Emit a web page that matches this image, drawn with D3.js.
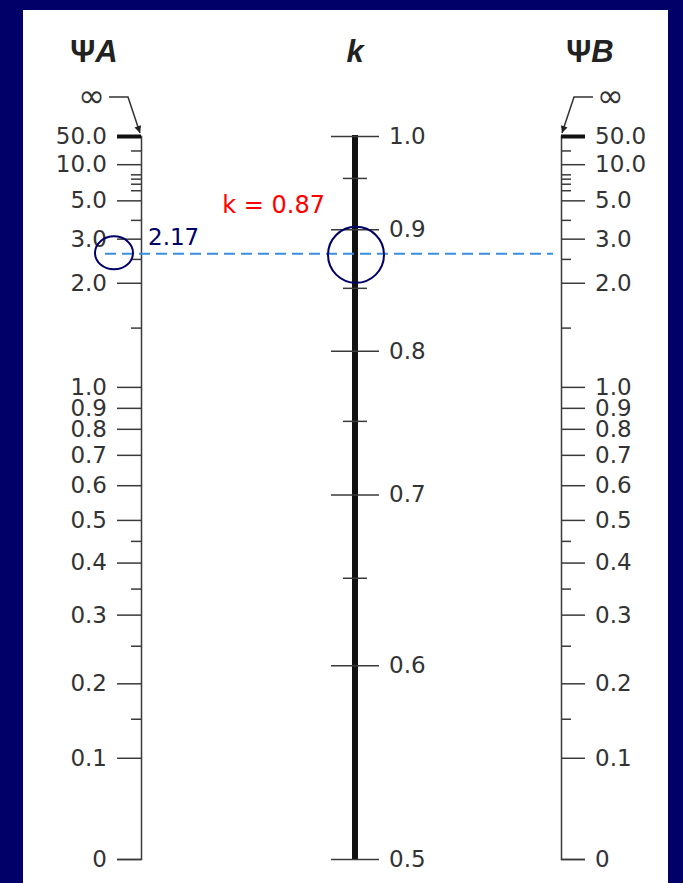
<!DOCTYPE html>
<html>
<head>
<meta charset="utf-8">
<script src="https://cdn.jsdelivr.net/npm/d3@7"></script>
<style>
  body { margin: 0; background: #000068; }
</style>
</head>
<body>
<svg id="chart"></svg>
<script>
// tick values on the two psi scales and the k scale
const psiMajor = [0, 0.1, 0.2, 0.3, 0.4, 0.5, 0.6, 0.7, 0.8, 0.9, 1.0, 2.0, 3.0, 5.0, 10.0, 50.0];
const psiLabels = ['0', '0.1', '0.2', '0.3', '0.4', '0.5', '0.6', '0.7', '0.8', '0.9', '1.0', '2.0', '3.0', '5.0', '10.0', '50.0'];
const psiMinor = [0.15, 0.25, 0.35, 0.45, 1.5, 2.5, 4, 6, 7, 8, 9, 20];
const kMajor = [0.5, 0.6, 0.7, 0.8, 0.9, 1.0];
const kLabels = ['0.5', '0.6', '0.7', '0.8', '0.9', '1.0'];
const kMinor = [0.65, 0.75, 0.85, 0.95];

// the nomograph scales are not linear: where each value sits along the axis (0 = bottom, 1 = top)
const psiCalValues = [0, 0.1, 0.15, 0.2, 0.25, 0.3, 0.35, 0.4, 0.45, 0.5, 0.6, 0.7, 0.8, 0.9, 1.0, 1.5, 2.0, 2.5, 3.0, 4.0, 5.0, 6, 7, 8, 9, 10, 20, 50];
const psiCalPos = [0, 0.140, 0.194, 0.243, 0.295, 0.338, 0.374, 0.410, 0.440, 0.469, 0.517, 0.559, 0.595, 0.624, 0.653, 0.735, 0.797, 0.830, 0.858, 0.884, 0.911, 0.925, 0.934, 0.941, 0.947, 0.961, 0.980, 1];
const kCalValues = [0.5, 0.6, 0.65, 0.7, 0.75, 0.8, 0.85, 0.9, 0.95, 1.0];
const kCalPos = [0, 0.268, 0.389, 0.504, 0.606, 0.703, 0.790, 0.871, 0.942, 1];

// worked example drawn on the chart
const readPsi = '2.17';
const readK = 'k = 0.87';
const guideK = 0.879; // where the hand drawn guide crosses the k scale

const width = 683, height = 883;
const xA = 141, xK = 355, xB = 561;
const font = '"DejaVu Sans", sans-serif';

const svg = d3.select('#chart')
  .attr('width', width)
  .attr('height', height);

svg.append('rect')
  .attr('width', width)
  .attr('height', height)
  .attr('fill', '#000068');

svg.append('rect')
  .attr('x', 23)
  .attr('y', 10)
  .attr('width', 645)
  .attr('height', height - 10)
  .attr('fill', '#fff');

const frac = d3.scaleLinear().domain([0, 1]).range([859, 136]);
const psiScale = d3.scaleLinear().domain(psiCalValues).range(psiCalPos.map(frac));
const kScale = d3.scaleLinear().domain(kCalValues).range(kCalPos.map(frac));

svg.append('defs').append('marker')
  .attr('id', 'arrow')
  .attr('viewBox', '0 0 10 10')
  .attr('refX', 10)
  .attr('refY', 5)
  .attr('markerWidth', 11)
  .attr('markerHeight', 7)
  .attr('markerUnits', 'userSpaceOnUse')
  .attr('orient', 'auto')
  .append('path')
  .attr('d', 'M0,0 L10,5 L0,10 z')
  .attr('fill', '#222');

// titles
const titles = [
  { x: 94, main: 'Ψ', sub: 'A' },
  { x: xK, main: '', sub: 'k' },
  { x: 590, main: 'Ψ', sub: 'B' }
];
titles.forEach(t => {
  const txt = svg.append('text')
    .attr('x', t.x)
    .attr('y', 62)
    .attr('text-anchor', 'middle')
    .style('font-family', '"Liberation Sans", Arial, sans-serif')
    .style('font-weight', 'bold')
    .style('font-size', '31px')
    .attr('fill', '#222');
  txt.append('tspan').text(t.main);
  txt.append('tspan').style('font-style', 'italic').text(t.sub);
});

function styleAxis(g, size) {
  g.attr('color', '#3a3a3a')
    .style('font-family', font)
    .style('font-size', size + 'px');
  g.selectAll('line, path').attr('stroke-width', 1.5);
  g.selectAll('text').attr('fill', '#333');
}

// psi A scale (left)
const axisA = svg.append('g')
  .attr('transform', `translate(${xA},0)`)
  .call(d3.axisLeft(psiScale)
    .tickValues(psiMajor)
    .tickFormat((d, i) => psiLabels[i])
    .tickSize(24)
    .tickSizeOuter(24)
    .tickPadding(10));
styleAxis(axisA, 23);

svg.append('g')
  .attr('transform', `translate(${xA},0)`)
  .call(d3.axisLeft(psiScale).tickValues(psiMinor).tickFormat('').tickSize(10))
  .call(g => g.select('.domain').remove())
  .call(g => styleAxis(g, 23));

// psi B scale (right)
const axisB = svg.append('g')
  .attr('transform', `translate(${xB},0)`)
  .call(d3.axisRight(psiScale)
    .tickValues(psiMajor)
    .tickFormat((d, i) => psiLabels[i])
    .tickSize(24)
    .tickSizeOuter(24)
    .tickPadding(10));
styleAxis(axisB, 23);

svg.append('g')
  .attr('transform', `translate(${xB},0)`)
  .call(d3.axisRight(psiScale).tickValues(psiMinor).tickFormat('').tickSize(10))
  .call(g => g.select('.domain').remove())
  .call(g => styleAxis(g, 23));

// 50.0 gets a heavy tick on both sides
[axisA, axisB].forEach(g => {
  g.selectAll('.tick').filter(d => d === 50)
    .select('line')
    .attr('stroke', '#111')
    .attr('stroke-width', 4);
});

// infinity with its leader arrows
[{ x: xA, dir: -1 }, { x: xB, dir: 1 }].forEach(s => {
  const top = psiScale(50);
  svg.append('path')
    .attr('d', d3.line()([
      [s.x + s.dir * 32, 97],
      [s.x + s.dir * 13, 97],
      [s.x + s.dir * 1, top - 3]
    ]))
    .attr('fill', 'none')
    .attr('stroke', '#333')
    .attr('stroke-width', 1.5)
    .attr('marker-end', 'url(#arrow)');
  svg.append('text')
    .attr('x', s.x + s.dir * 36)
    .attr('y', 97)
    .attr('dy', '0.3em')
    .attr('text-anchor', s.dir < 0 ? 'end' : 'start')
    .style('font-family', font)
    .style('font-size', '32px')
    .attr('fill', '#333')
    .text('∞');
});

// k scale (middle): thick spine with ticks crossing it
svg.append('line')
  .attr('x1', xK).attr('x2', xK)
  .attr('y1', kScale(1.0) - 1)
  .attr('y2', kScale(0.5) + 1)
  .attr('stroke', '#111')
  .attr('stroke-width', 6);

const axisK = svg.append('g')
  .attr('transform', `translate(${xK},0)`)
  .call(d3.axisRight(kScale)
    .tickValues(kMajor)
    .tickFormat((d, i) => kLabels[i])
    .tickSize(24)
    .tickSizeOuter(0)
    .tickPadding(10));
axisK.select('.domain').remove();
styleAxis(axisK, 23);
axisK.selectAll('.tick line').attr('x1', -24);

svg.append('g')
  .attr('transform', `translate(${xK},0)`)
  .call(d3.axisRight(kScale).tickValues(kMinor).tickFormat('').tickSize(12))
  .call(g => g.select('.domain').remove())
  .call(g => styleAxis(g, 23))
  .call(g => g.selectAll('.tick line').attr('x1', -12));

// worked example: guide line, circles and readings
const gy = kScale(guideK);

svg.append('line')
  .attr('x1', xA - 36)
  .attr('x2', xB - 8)
  .attr('y1', gy).attr('y2', gy)
  .attr('stroke', '#3a8ee0')
  .attr('stroke-width', 2)
  .attr('stroke-dasharray', '11,6');

svg.append('ellipse')
  .attr('cx', xA - 27)
  .attr('cy', gy - 1)
  .attr('rx', 19)
  .attr('ry', 16.5)
  .attr('fill', 'none')
  .attr('stroke', '#000068')
  .attr('stroke-width', 2);

svg.append('circle')
  .attr('cx', xK + 1)
  .attr('cy', gy + 1)
  .attr('r', 28)
  .attr('fill', 'none')
  .attr('stroke', '#000068')
  .attr('stroke-width', 2);

svg.append('text')
  .attr('x', xA + 7)
  .attr('y', gy - 9)
  .style('font-family', font)
  .style('font-size', '23px')
  .attr('fill', '#000068')
  .text(readPsi);

svg.append('text')
  .attr('x', xK - 30)
  .attr('y', gy - 41)
  .attr('text-anchor', 'end')
  .style('font-family', font)
  .style('font-size', '24px')
  .attr('fill', '#ff0000')
  .text(readK);
</script>
</body>
</html>
